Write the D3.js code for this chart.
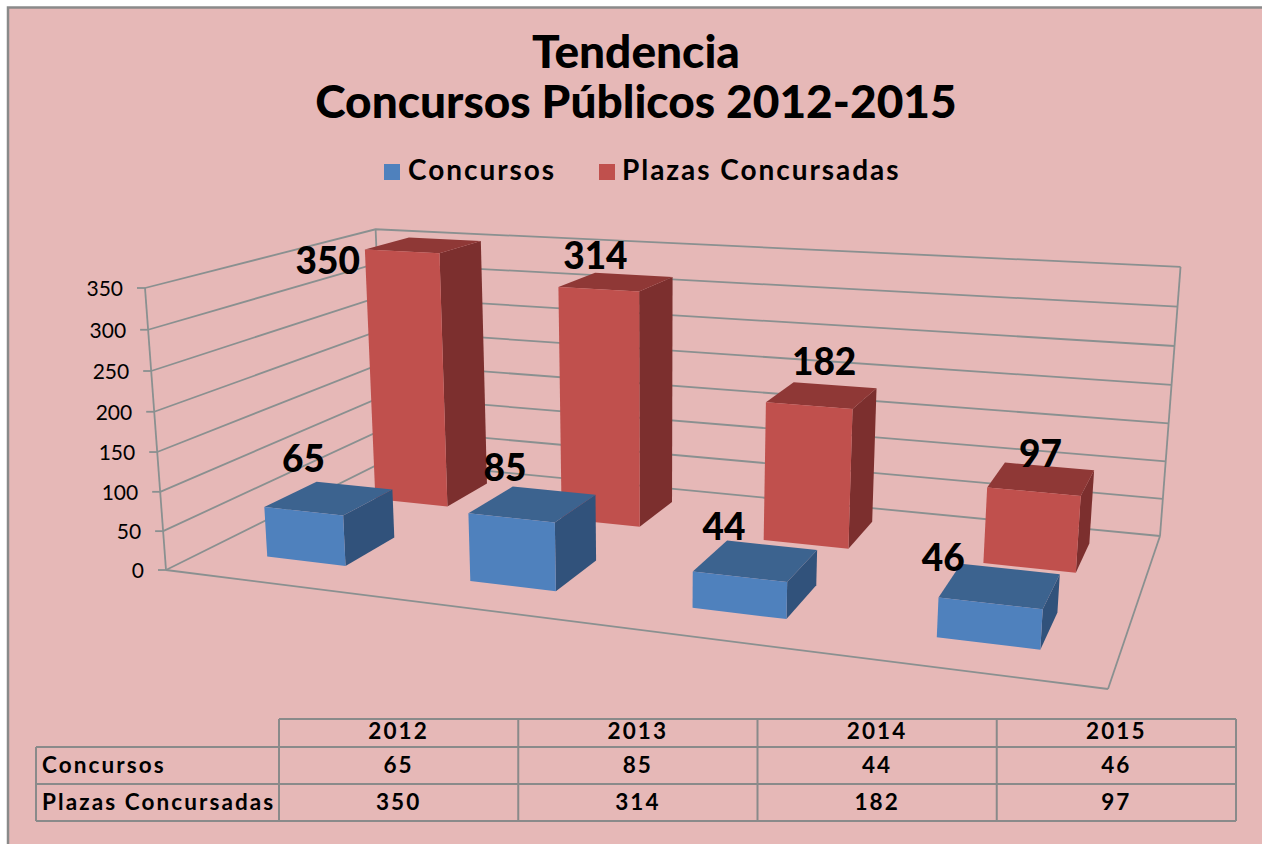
<!DOCTYPE html>
<html><head><meta charset="utf-8">
<script src="https://cdnjs.cloudflare.com/ajax/libs/d3/7.8.5/d3.min.js"></script>
<style>html,body{margin:0;padding:0;background:#fff}svg{display:block}text{font-family:Lato,"Open Sans",sans-serif;fill:#000}</style>
</head><body><svg id="c" width="1262" height="844"></svg>
<script>
const years = ["2012","2013","2014","2015"];
const seriesNames = ["Concursos","Plazas Concursadas"];
const concursos = [65,85,44,46];
const plazas = [350,314,182,97];
const valueTicks = [0,50,100,150,200,250,300,350];

const C = {bg:"#e6b8b7",line:"#8a9090",
  front:["#4f81bd","#c0504d"],top:["#3c638f","#8f3836"],side:["#31527b","#7c2f2e"]};
const labelNudge = [[[-26,-26],[-96,29]],[[-28,-23],[-21,-13]],[[-32,-21],[2,-20]],[[-57,-15],[-1,-12]]];

const svg = d3.select("#c");
svg.append("rect").attr("x",8).attr("y",7.5).attr("width",1262).attr("height",1000).attr("fill",C.bg).attr("stroke","#8a8a8a").attr("stroke-width",2.5);

/* perspective camera built from the chart box corners */
const FL=[166,570],FR=[1108,689],BR=[1160,536],BL=[385,461],TFL=[145,288],TBR=[1181,267];
function det3(a,b,c){return a[0]*(b[1]*c[2]-b[2]*c[1])-a[1]*(b[0]*c[2]-b[2]*c[0])+a[2]*(b[0]*c[1]-b[1]*c[0]);}
function cross(a,b){return [a[1]*b[2]-a[2]*b[1],a[2]*b[0]-a[0]*b[2],a[0]*b[1]-a[1]*b[0]];}
const h=p=>[p[0],p[1],1];
const p0=h(FL),p1=h(FR),p2=h(BL),p3=h(BR);
const D=det3(p0,p1,p2);
const l0=det3(p3,p1,p2)/D,l1=det3(p0,p3,p2)/D,l2=det3(p0,p1,p3)/D;
const Cc=p0.map(v=>-l0*v);
const Ca=p1.map((v,i)=>l1*v+l0*p0[i]);
const Cb=p2.map((v,i)=>l2*v+l0*p0[i]);
const q0=h(TFL),q1=h(TBR);
const ab=Ca.map((v,i)=>v+Cb[i]);
const bx=cross(ab,q1),qx=cross(q0,q1);
const s=-(bx[0]*qx[0]+bx[1]*qx[1]+bx[2]*qx[2])/(qx[0]*qx[0]+qx[1]*qx[1]+qx[2]*qx[2]);
const Cd=q0.map((v,i)=>s*v-Cc[i]);
function project(u,w,v){
  const P=[0,1,2].map(i=>Ca[i]*u+Cb[i]*w+Cc[i]+Cd[i]*v);
  return [P[0]/P[2],P[1]/P[2]];
}

const xBand=d3.scaleBand().domain(years).range([0.078,0.928]).paddingInner(0.604).paddingOuter(0);
const zBand=d3.scaleBand().domain(seriesNames).range([0.16,0.886]).paddingInner(0.548).paddingOuter(0);
const yVal=d3.scaleLinear().domain([0,350]).range([0,1]);

const line=d3.line();
const g=svg.append("g");
/* walls */
const grid=g.append("g").attr("fill","none").attr("stroke",C.line).attr("stroke-width",1.8);
grid.selectAll("path.t").data(valueTicks).join("path").attr("class","t")
  .attr("d",d=>{const v=yVal(d);return line([project(0,0,v),project(0,1,v),project(1,1,v)]);});
grid.selectAll("path.m").data(valueTicks).join("path").attr("class","m")
  .attr("d",d=>{const p=project(0,0,yVal(d));return line([[p[0]-8,p[1]],p]);});
[[[0,0,0],[0,0,1]],[[0,1,0],[0,1,1]],[[1,1,0],[1,1,1]],[[0,0,0],[1,0,0]],[[1,0,0],[1,1,0]]].forEach(e=>{
  grid.append("path").attr("d",line(e.map(p=>project(...p))));
});
g.selectAll("text.yl").data(valueTicks).join("text").attr("class","yl")
  .attr("x",d=>project(0,0,yVal(d))[0]-22).attr("y",d=>project(0,0,yVal(d))[1]+8)
  .attr("text-anchor","end").attr("font-size",21).text(d=>d);

/* bars: back series first, left to right */
[1,0].forEach(si=>{
  const vals=si?plazas:concursos;
  const z0=zBand(seriesNames[si]),z1=z0+zBand.bandwidth();
  years.forEach((yr,i)=>{
    const u0=xBand(yr),u1=u0+xBand.bandwidth(),v=yVal(vals[i]);
    const bar=g.append("g");
    bar.append("path").attr("fill",C.side[si]).attr("d",line([[u1,z0,0],[u1,z1,0],[u1,z1,v],[u1,z0,v]].map(p=>project(...p)))+"Z");
    bar.append("path").attr("fill",C.top[si]).attr("d",line([[u0,z0,v],[u1,z0,v],[u1,z1,v],[u0,z1,v]].map(p=>project(...p)))+"Z");
    bar.append("path").attr("fill",C.front[si]).attr("d",line([[u0,z0,0],[u1,z0,0],[u1,z0,v],[u0,z0,v]].map(p=>project(...p)))+"Z");
  });
});
/* value labels */
[0,1].forEach(si=>{
  const vals=si?plazas:concursos;
  years.forEach((yr,i)=>{
    const p=project(xBand(yr)+xBand.bandwidth()/2,zBand(seriesNames[si])+zBand.bandwidth()/2,yVal(vals[i]));
    g.append("text").attr("x",p[0]+labelNudge[i][si][0]).attr("y",p[1]+labelNudge[i][si][1])
      .attr("text-anchor","middle").attr("font-size",37).attr("font-weight",900).text(vals[i]);
  });
});

/* title + legend */
svg.append("text").attr("x",636).attr("y",68).attr("text-anchor","middle").attr("font-size",46).attr("font-weight",900).text("Tendencia");
svg.append("text").attr("x",636).attr("y",118).attr("text-anchor","middle").attr("font-size",46).attr("font-weight",900).text("Concursos Públicos 2012-2015");
const legendX=[[384,408],[599,622]];
seriesNames.forEach((n,i)=>{
  svg.append("rect").attr("x",legendX[i][0]).attr("y",164).attr("width",16).attr("height",16).attr("fill",C.front[i]);
  svg.append("text").attr("x",legendX[i][1]).attr("y",180).attr("font-size",28).attr("font-weight",700).attr("letter-spacing",1.95).text(n);
});

/* data table */
const colX=d3.scalePoint().domain(years.concat("end")).range([279,1236]);
const rowEdges=[719,747,784,821];
const T=svg.append("g");
const tl=T.append("g").attr("stroke","#8a8a8a").attr("stroke-width",2).attr("fill","none");
tl.append("path").attr("d",line([[279,rowEdges[0]],[1236,rowEdges[0]]]));
rowEdges.slice(1).forEach(y=>tl.append("path").attr("d",line([[36,y],[1236,y]])));
years.concat("end").forEach(y=>tl.append("path").attr("d",line([[colX(y),rowEdges[0]],[colX(y),rowEdges[3]]])));
tl.append("path").attr("d",line([[36,rowEdges[1]],[36,rowEdges[3]]]));
const cell=(x,y,t,anchor)=>T.append("text").attr("x",x).attr("y",y).attr("text-anchor",anchor).attr("font-size",22.5).attr("font-weight",700).attr("letter-spacing",2.1).text(t);
years.forEach((y,i)=>{
  const cx=colX(y)+colX.step()/2;
  cell(cx,739,y,"middle");
  cell(cx,773,concursos[i],"middle");
  cell(cx,810,plazas[i],"middle");
});
cell(42,773,seriesNames[0],"start");
cell(42,810,seriesNames[1],"start");
</script></body></html>
